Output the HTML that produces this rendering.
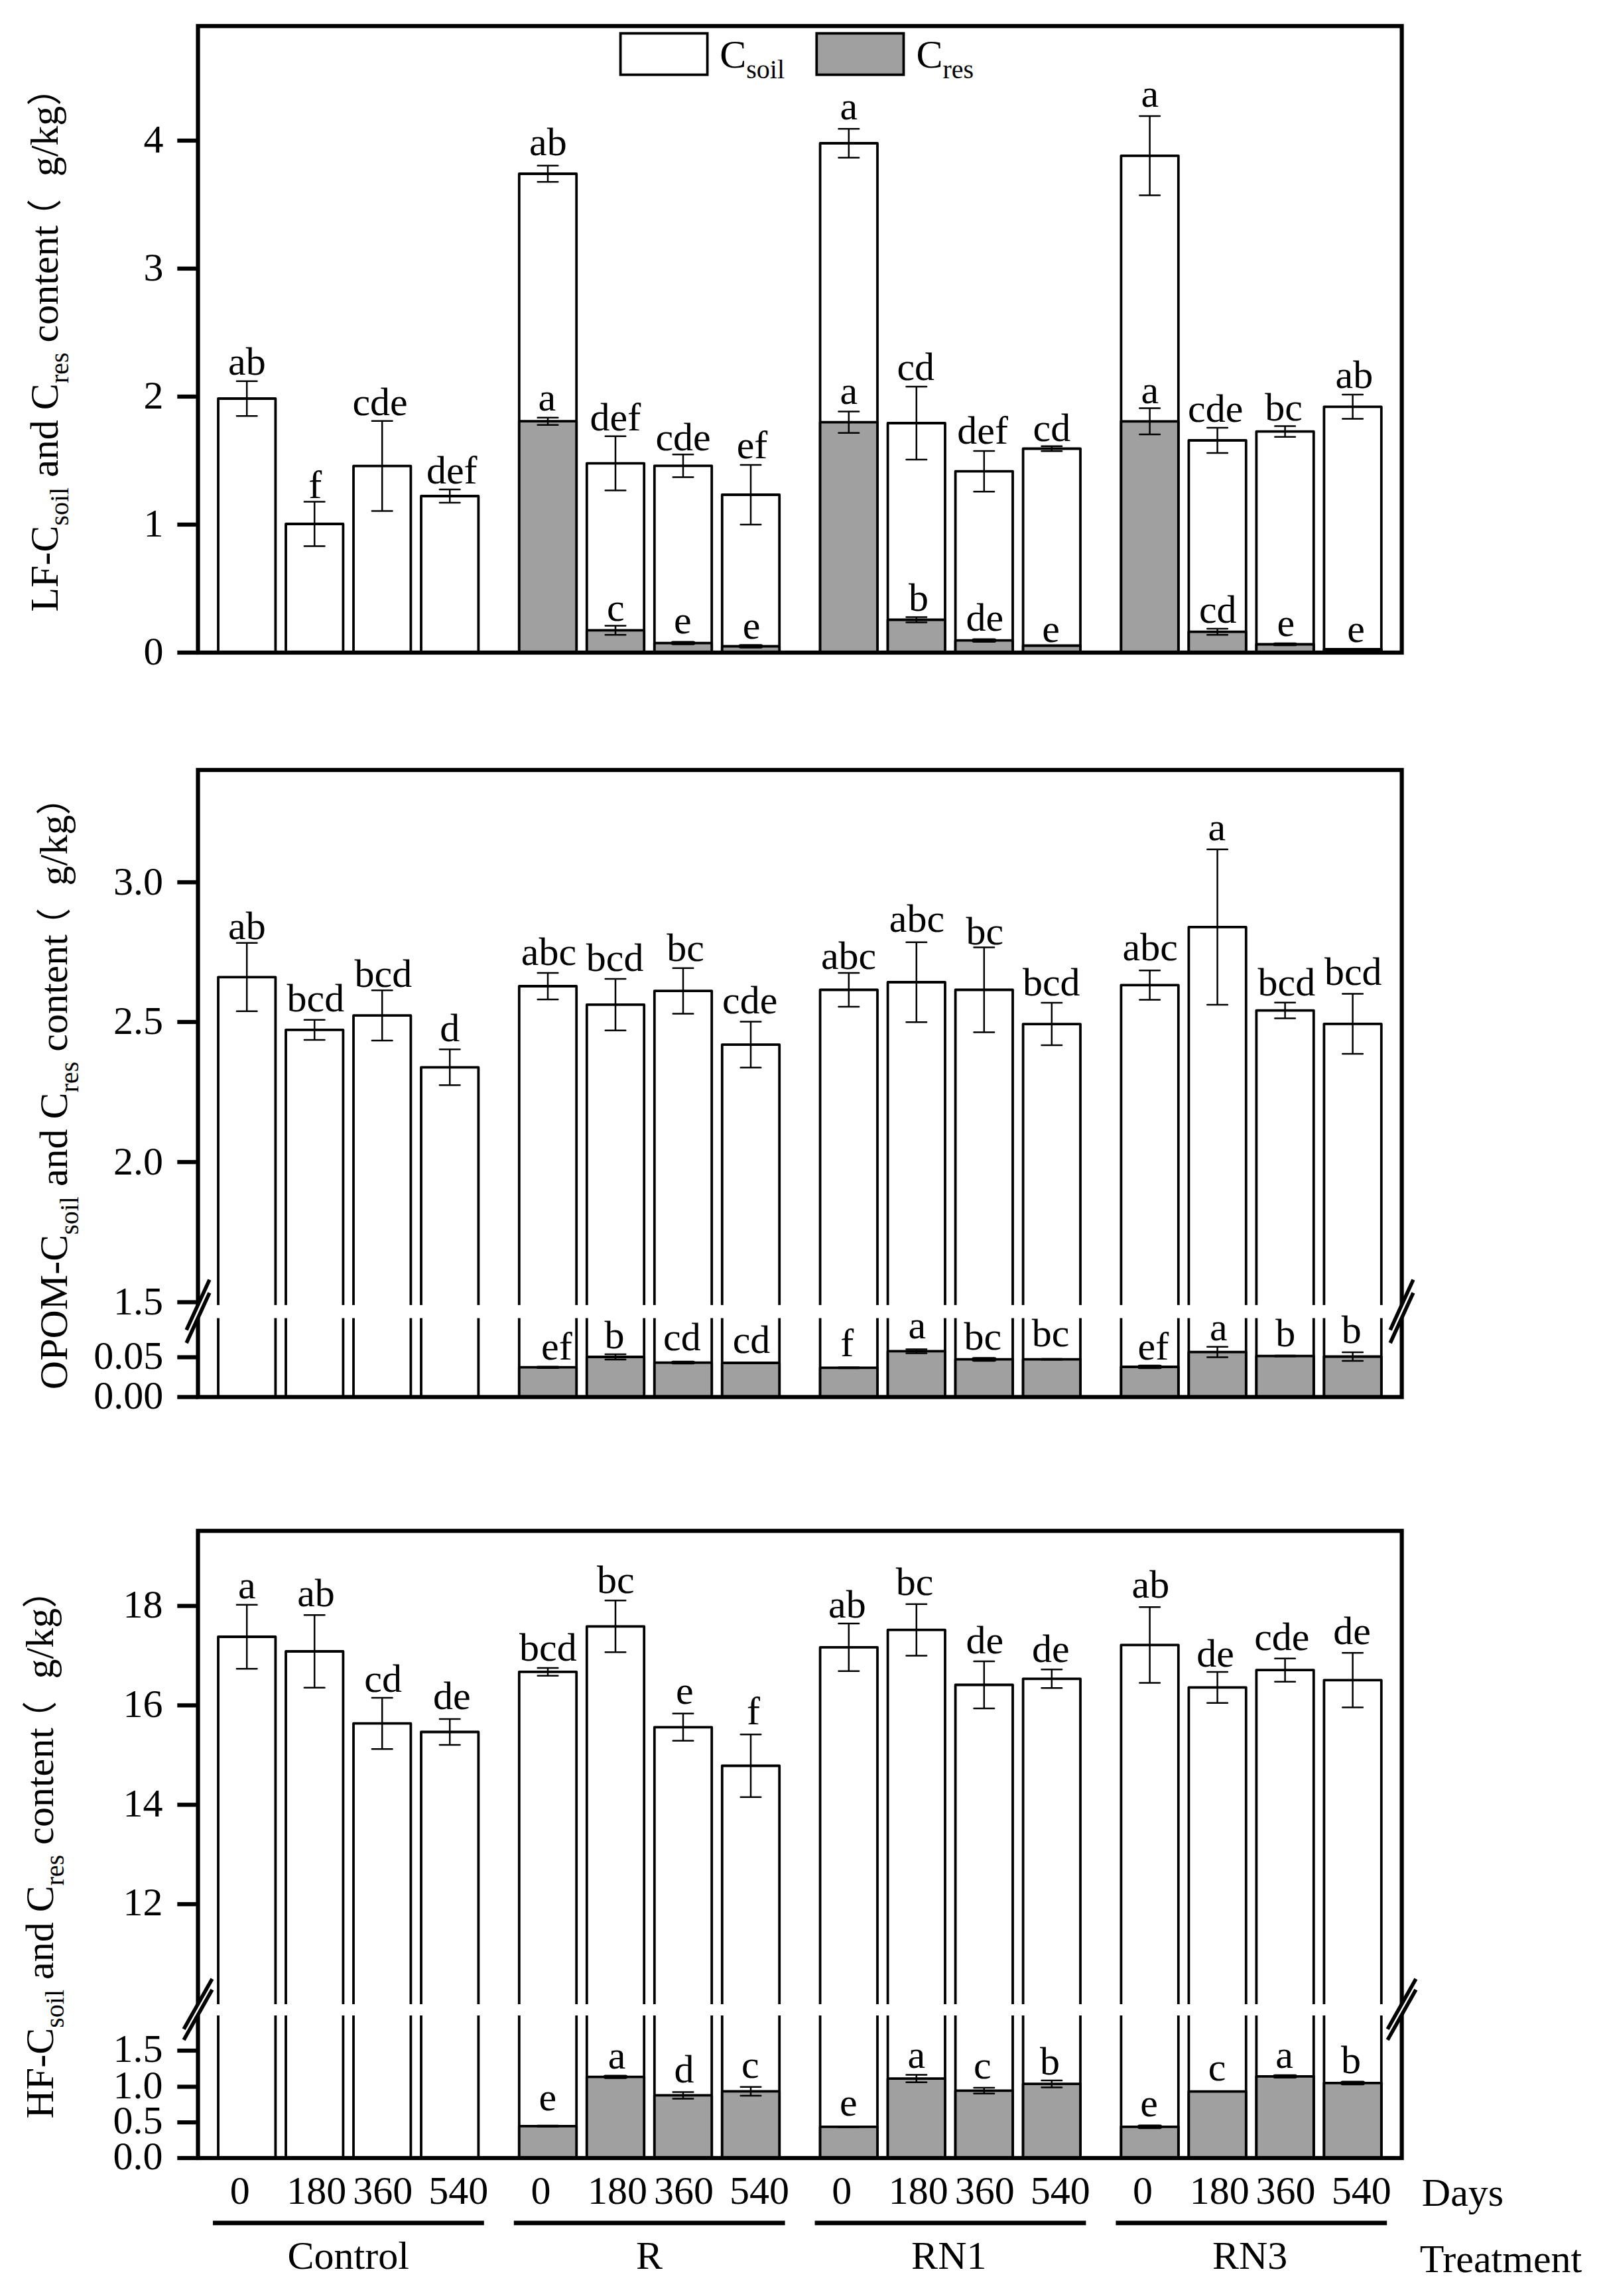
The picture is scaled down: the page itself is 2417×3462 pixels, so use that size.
<!DOCTYPE html>
<html lang="en"><head><meta charset="utf-8"><title>LF, OPOM and HF C content</title>
<style>html,body{margin:0;padding:0;background:#fff}svg{display:block}text{font-family:"Liberation Serif","Noto Serif CJK SC",serif;font-size:60px;fill:#000}text.cjk{font-family:"Noto Sans CJK SC","Noto Serif CJK SC",sans-serif;font-size:53px;font-weight:400}</style></head><body>
<svg width="2417" height="3462" viewBox="0 0 2417 3462">
<rect width="2417" height="3462" fill="#fff"/>
<rect x="329.0" y="601.0" width="86.4" height="383.0" fill="#fff" stroke="#000" stroke-width="3.8" stroke-linejoin="round"/>
<rect x="431.0" y="790.0" width="86.4" height="194.0" fill="#fff" stroke="#000" stroke-width="3.8" stroke-linejoin="round"/>
<rect x="533.0" y="702.7" width="86.4" height="281.3" fill="#fff" stroke="#000" stroke-width="3.8" stroke-linejoin="round"/>
<rect x="635.0" y="748.0" width="86.4" height="236.0" fill="#fff" stroke="#000" stroke-width="3.8" stroke-linejoin="round"/>
<rect x="782.8" y="262.0" width="86.4" height="722.0" fill="#fff" stroke="#000" stroke-width="3.8" stroke-linejoin="round"/>
<rect x="782.8" y="635.2" width="86.4" height="348.8" fill="#a0a0a0" stroke="#000" stroke-width="3.8" stroke-linejoin="round"/>
<rect x="884.8" y="698.6" width="86.4" height="285.4" fill="#fff" stroke="#000" stroke-width="3.8" stroke-linejoin="round"/>
<rect x="884.8" y="950.4" width="86.4" height="33.6" fill="#a0a0a0" stroke="#000" stroke-width="3.8" stroke-linejoin="round"/>
<rect x="986.8" y="702.3" width="86.4" height="281.7" fill="#fff" stroke="#000" stroke-width="3.8" stroke-linejoin="round"/>
<rect x="986.8" y="969.6" width="86.4" height="14.4" fill="#a0a0a0" stroke="#000" stroke-width="3.8" stroke-linejoin="round"/>
<rect x="1088.8" y="746.0" width="86.4" height="238.0" fill="#fff" stroke="#000" stroke-width="3.8" stroke-linejoin="round"/>
<rect x="1088.8" y="974.5" width="86.4" height="9.5" fill="#a0a0a0" stroke="#000" stroke-width="3.8" stroke-linejoin="round"/>
<rect x="1236.6" y="216.0" width="86.4" height="768.0" fill="#fff" stroke="#000" stroke-width="3.8" stroke-linejoin="round"/>
<rect x="1236.6" y="636.6" width="86.4" height="347.4" fill="#a0a0a0" stroke="#000" stroke-width="3.8" stroke-linejoin="round"/>
<rect x="1338.6" y="638.0" width="86.4" height="346.0" fill="#fff" stroke="#000" stroke-width="3.8" stroke-linejoin="round"/>
<rect x="1338.6" y="934.5" width="86.4" height="49.5" fill="#a0a0a0" stroke="#000" stroke-width="3.8" stroke-linejoin="round"/>
<rect x="1440.6" y="710.6" width="86.4" height="273.4" fill="#fff" stroke="#000" stroke-width="3.8" stroke-linejoin="round"/>
<rect x="1440.6" y="965.7" width="86.4" height="18.3" fill="#a0a0a0" stroke="#000" stroke-width="3.8" stroke-linejoin="round"/>
<rect x="1542.6" y="676.5" width="86.4" height="307.5" fill="#fff" stroke="#000" stroke-width="3.8" stroke-linejoin="round"/>
<rect x="1542.6" y="973.5" width="86.4" height="10.5" fill="#a0a0a0" stroke="#000" stroke-width="3.8" stroke-linejoin="round"/>
<rect x="1690.4" y="234.8" width="86.4" height="749.2" fill="#fff" stroke="#000" stroke-width="3.8" stroke-linejoin="round"/>
<rect x="1690.4" y="635.3" width="86.4" height="348.7" fill="#a0a0a0" stroke="#000" stroke-width="3.8" stroke-linejoin="round"/>
<rect x="1792.4" y="664.0" width="86.4" height="320.0" fill="#fff" stroke="#000" stroke-width="3.8" stroke-linejoin="round"/>
<rect x="1792.4" y="952.6" width="86.4" height="31.4" fill="#a0a0a0" stroke="#000" stroke-width="3.8" stroke-linejoin="round"/>
<rect x="1894.4" y="650.6" width="86.4" height="333.4" fill="#fff" stroke="#000" stroke-width="3.8" stroke-linejoin="round"/>
<rect x="1894.4" y="971.5" width="86.4" height="12.5" fill="#a0a0a0" stroke="#000" stroke-width="3.8" stroke-linejoin="round"/>
<rect x="1996.4" y="613.3" width="86.4" height="370.7" fill="#fff" stroke="#000" stroke-width="3.8" stroke-linejoin="round"/>
<rect x="1996.4" y="979.0" width="86.4" height="5.0" fill="#a0a0a0" stroke="#000" stroke-width="3.8" stroke-linejoin="round"/>
<path d="M372.2 574.8V627.2M356.9 574.8h30.6M356.9 627.2h30.6" fill="none" stroke="#000" stroke-width="2.5" stroke-linecap="round"/>
<text x="344.1" y="564.6">ab</text>
<path d="M474.2 756.6V823.4M458.9 756.6h30.6M458.9 823.4h30.6" fill="none" stroke="#000" stroke-width="2.5" stroke-linecap="round"/>
<text x="465.2" y="751.0">f</text>
<path d="M576.2 634.8V770.6M560.9 634.8h30.6M560.9 770.6h30.6" fill="none" stroke="#000" stroke-width="2.5" stroke-linecap="round"/>
<text x="531.4" y="625.7">cde</text>
<path d="M678.2 737.9V758.1M662.9 737.9h30.6M662.9 758.1h30.6" fill="none" stroke="#000" stroke-width="2.5" stroke-linecap="round"/>
<text x="642.9" y="729.0">def</text>
<path d="M826.0 249.8V274.2M810.7 249.8h30.6M810.7 274.2h30.6" fill="none" stroke="#000" stroke-width="2.5" stroke-linecap="round"/>
<text x="798.1" y="233.9">ab</text>
<path d="M826.0 629.7V640.7M810.7 629.7h30.6M810.7 640.7h30.6" fill="none" stroke="#000" stroke-width="2.5" stroke-linecap="round"/>
<text x="811.4" y="619.0">a</text>
<path d="M928.0 657.7V739.5M912.7 657.7h30.6M912.7 739.5h30.6" fill="none" stroke="#000" stroke-width="2.5" stroke-linecap="round"/>
<text x="889.6" y="648.9">def</text>
<path d="M928.0 943.5V957.3M912.7 943.5h30.6M912.7 957.3h30.6" fill="none" stroke="#000" stroke-width="2.5" stroke-linecap="round"/>
<text x="915.0" y="935.8">c</text>
<path d="M1030.0 685.2V719.4M1014.7 685.2h30.6M1014.7 719.4h30.6" fill="none" stroke="#000" stroke-width="2.5" stroke-linecap="round"/>
<text x="988.4" y="679.0">cde</text>
<line x1="1014.7" y1="969.6" x2="1045.3" y2="969.6" stroke="#000" stroke-width="6.3" stroke-linecap="round"/>
<text x="1016.1" y="954.5">e</text>
<path d="M1132.0 701.1V790.9M1116.7 701.1h30.6M1116.7 790.9h30.6" fill="none" stroke="#000" stroke-width="2.5" stroke-linecap="round"/>
<text x="1110.7" y="691.3">ef</text>
<line x1="1116.7" y1="974.5" x2="1147.3" y2="974.5" stroke="#000" stroke-width="6.3" stroke-linecap="round"/>
<text x="1119.7" y="963.0">e</text>
<path d="M1279.8 194.2V237.8M1264.5 194.2h30.6M1264.5 237.8h30.6" fill="none" stroke="#000" stroke-width="2.5" stroke-linecap="round"/>
<text x="1266.4" y="180.3">a</text>
<path d="M1279.8 620.4V652.8M1264.5 620.4h30.6M1264.5 652.8h30.6" fill="none" stroke="#000" stroke-width="2.5" stroke-linecap="round"/>
<text x="1266.4" y="609.2">a</text>
<path d="M1381.8 583.0V693.0M1366.5 583.0h30.6M1366.5 693.0h30.6" fill="none" stroke="#000" stroke-width="2.5" stroke-linecap="round"/>
<text x="1352.4" y="572.8">cd</text>
<path d="M1381.8 930.5V938.5M1366.5 930.5h30.6M1366.5 938.5h30.6" fill="none" stroke="#000" stroke-width="2.5" stroke-linecap="round"/>
<text x="1370.0" y="921.0">b</text>
<path d="M1483.8 679.9V741.3M1468.5 679.9h30.6M1468.5 741.3h30.6" fill="none" stroke="#000" stroke-width="2.5" stroke-linecap="round"/>
<text x="1443.3" y="669.3">def</text>
<line x1="1468.5" y1="965.7" x2="1499.1" y2="965.7" stroke="#000" stroke-width="6.5" stroke-linecap="round"/>
<text x="1456.5" y="950.8">de</text>
<path d="M1585.8 672.7V680.3M1570.5 672.7h30.6M1570.5 680.3h30.6" fill="none" stroke="#000" stroke-width="2.5" stroke-linecap="round"/>
<text x="1557.6" y="665.2">cd</text>
<text x="1571.2" y="967.5">e</text>
<path d="M1733.6 175.1V294.5M1718.3 175.1h30.6M1718.3 294.5h30.6" fill="none" stroke="#000" stroke-width="2.5" stroke-linecap="round"/>
<text x="1720.4" y="161.1">a</text>
<path d="M1733.6 615.5V655.1M1718.3 615.5h30.6M1718.3 655.1h30.6" fill="none" stroke="#000" stroke-width="2.5" stroke-linecap="round"/>
<text x="1720.4" y="607.9">a</text>
<path d="M1835.6 644.9V683.1M1820.3 644.9h30.6M1820.3 683.1h30.6" fill="none" stroke="#000" stroke-width="2.5" stroke-linecap="round"/>
<text x="1791.0" y="636.0">cde</text>
<path d="M1835.6 947.9V957.3M1820.3 947.9h30.6M1820.3 957.3h30.6" fill="none" stroke="#000" stroke-width="2.5" stroke-linecap="round"/>
<text x="1807.9" y="939.3">cd</text>
<path d="M1937.6 642.4V658.8M1922.3 642.4h30.6M1922.3 658.8h30.6" fill="none" stroke="#000" stroke-width="2.5" stroke-linecap="round"/>
<text x="1907.2" y="634.3">bc</text>
<line x1="1922.3" y1="971.5" x2="1952.9" y2="971.5" stroke="#000" stroke-width="5.7" stroke-linecap="round"/>
<text x="1925.6" y="959.4">e</text>
<path d="M2039.6 595.1V631.5M2024.3 595.1h30.6M2024.3 631.5h30.6" fill="none" stroke="#000" stroke-width="2.5" stroke-linecap="round"/>
<text x="2013.6" y="585.0">ab</text>
<text x="2031.2" y="967.5">e</text>
<rect x="298.5" y="39.3" width="1815.1" height="944.7" fill="none" stroke="#000" stroke-width="6.2"/>
<line x1="267.3" y1="984.0" x2="298.5" y2="984.0" stroke="#000" stroke-width="6.2"/>
<text x="216.6" y="1002.2">0</text>
<line x1="267.3" y1="791.0" x2="298.5" y2="791.0" stroke="#000" stroke-width="6.2"/>
<text x="216.6" y="809.2">1</text>
<line x1="267.3" y1="598.0" x2="298.5" y2="598.0" stroke="#000" stroke-width="6.2"/>
<text x="216.6" y="616.2">2</text>
<line x1="267.3" y1="405.0" x2="298.5" y2="405.0" stroke="#000" stroke-width="6.2"/>
<text x="216.6" y="423.2">3</text>
<line x1="267.3" y1="212.0" x2="298.5" y2="212.0" stroke="#000" stroke-width="6.2"/>
<text x="216.6" y="230.2">4</text>
<rect x="935.6" y="50.3" width="131" height="62.4" fill="#fff" stroke="#000" stroke-width="3.8"/>
<rect x="1231.3" y="50.3" width="131.2" height="62.4" fill="#a0a0a0" stroke="#000" stroke-width="3.8"/>
<text x="1085.2" y="102">C<tspan font-size="40" dy="16">soil</tspan></text>
<text x="1381.4" y="102">C<tspan font-size="40" dy="16">res</tspan></text>
<g transform="translate(87.0,922.6) rotate(-90)">
<text x="0" y="0">LF-C<tspan font-size="40" dy="16.4">soil</tspan><tspan dy="-16.4"> and C</tspan><tspan font-size="40" dy="16.4">res</tspan><tspan dy="-16.4"> content</tspan></text>
<text x="656.3" y="0">g/kg</text>
<text class="cjk" x="569.7" y="0">（</text>
<text class="cjk" x="763.0" y="0">）</text>
</g>
<rect x="329.0" y="1473.3" width="86.4" height="633.2" fill="#fff" stroke="#000" stroke-width="3.8" stroke-linejoin="round"/>
<rect x="431.0" y="1552.8" width="86.4" height="553.7" fill="#fff" stroke="#000" stroke-width="3.8" stroke-linejoin="round"/>
<rect x="533.0" y="1531.2" width="86.4" height="575.3" fill="#fff" stroke="#000" stroke-width="3.8" stroke-linejoin="round"/>
<rect x="635.0" y="1609.3" width="86.4" height="497.2" fill="#fff" stroke="#000" stroke-width="3.8" stroke-linejoin="round"/>
<rect x="782.8" y="1487.0" width="86.4" height="619.5" fill="#fff" stroke="#000" stroke-width="3.8" stroke-linejoin="round"/>
<rect x="884.8" y="1514.9" width="86.4" height="591.6" fill="#fff" stroke="#000" stroke-width="3.8" stroke-linejoin="round"/>
<rect x="986.8" y="1494.2" width="86.4" height="612.3" fill="#fff" stroke="#000" stroke-width="3.8" stroke-linejoin="round"/>
<rect x="1088.8" y="1575.1" width="86.4" height="531.4" fill="#fff" stroke="#000" stroke-width="3.8" stroke-linejoin="round"/>
<rect x="1236.6" y="1492.5" width="86.4" height="614.0" fill="#fff" stroke="#000" stroke-width="3.8" stroke-linejoin="round"/>
<rect x="1338.6" y="1481.0" width="86.4" height="625.5" fill="#fff" stroke="#000" stroke-width="3.8" stroke-linejoin="round"/>
<rect x="1440.6" y="1492.5" width="86.4" height="614.0" fill="#fff" stroke="#000" stroke-width="3.8" stroke-linejoin="round"/>
<rect x="1542.6" y="1544.1" width="86.4" height="562.4" fill="#fff" stroke="#000" stroke-width="3.8" stroke-linejoin="round"/>
<rect x="1690.4" y="1485.3" width="86.4" height="621.2" fill="#fff" stroke="#000" stroke-width="3.8" stroke-linejoin="round"/>
<rect x="1792.4" y="1397.8" width="86.4" height="708.7" fill="#fff" stroke="#000" stroke-width="3.8" stroke-linejoin="round"/>
<rect x="1894.4" y="1523.6" width="86.4" height="582.9" fill="#fff" stroke="#000" stroke-width="3.8" stroke-linejoin="round"/>
<rect x="1996.4" y="1543.8" width="86.4" height="562.7" fill="#fff" stroke="#000" stroke-width="3.8" stroke-linejoin="round"/>
<rect x="782.8" y="2061.7" width="86.4" height="44.8" fill="#a0a0a0" stroke="#000" stroke-width="3.8" stroke-linejoin="round"/>
<rect x="884.8" y="2046.0" width="86.4" height="60.5" fill="#a0a0a0" stroke="#000" stroke-width="3.8" stroke-linejoin="round"/>
<rect x="986.8" y="2054.6" width="86.4" height="51.9" fill="#a0a0a0" stroke="#000" stroke-width="3.8" stroke-linejoin="round"/>
<rect x="1088.8" y="2055.0" width="86.4" height="51.5" fill="#a0a0a0" stroke="#000" stroke-width="3.8" stroke-linejoin="round"/>
<rect x="1236.6" y="2062.3" width="86.4" height="44.2" fill="#a0a0a0" stroke="#000" stroke-width="3.8" stroke-linejoin="round"/>
<rect x="1338.6" y="2037.4" width="86.4" height="69.1" fill="#a0a0a0" stroke="#000" stroke-width="3.8" stroke-linejoin="round"/>
<rect x="1440.6" y="2049.7" width="86.4" height="56.8" fill="#a0a0a0" stroke="#000" stroke-width="3.8" stroke-linejoin="round"/>
<rect x="1542.6" y="2049.7" width="86.4" height="56.8" fill="#a0a0a0" stroke="#000" stroke-width="3.8" stroke-linejoin="round"/>
<rect x="1690.4" y="2061.0" width="86.4" height="45.5" fill="#a0a0a0" stroke="#000" stroke-width="3.8" stroke-linejoin="round"/>
<rect x="1792.4" y="2038.6" width="86.4" height="67.9" fill="#a0a0a0" stroke="#000" stroke-width="3.8" stroke-linejoin="round"/>
<rect x="1894.4" y="2044.7" width="86.4" height="61.8" fill="#a0a0a0" stroke="#000" stroke-width="3.8" stroke-linejoin="round"/>
<rect x="1996.4" y="2045.5" width="86.4" height="61.0" fill="#a0a0a0" stroke="#000" stroke-width="3.8" stroke-linejoin="round"/>
<rect x="301.7" y="1967.8" width="1808.7" height="19.7" fill="#fff"/>
<path d="M372.2 1421.8V1524.8M356.9 1421.8h30.6M356.9 1524.8h30.6" fill="none" stroke="#000" stroke-width="2.5" stroke-linecap="round"/>
<text x="344.1" y="1415.5">ab</text>
<path d="M474.2 1537.7V1567.9M458.9 1537.7h30.6M458.9 1567.9h30.6" fill="none" stroke="#000" stroke-width="2.5" stroke-linecap="round"/>
<text x="432.5" y="1525.1">bcd</text>
<path d="M576.2 1493.3V1569.1M560.9 1493.3h30.6M560.9 1569.1h30.6" fill="none" stroke="#000" stroke-width="2.5" stroke-linecap="round"/>
<text x="534.6" y="1488.4">bcd</text>
<path d="M678.2 1582.3V1636.3M662.9 1582.3h30.6M662.9 1636.3h30.6" fill="none" stroke="#000" stroke-width="2.5" stroke-linecap="round"/>
<text x="663.3" y="1569.6">d</text>
<path d="M826.0 1467.0V1507.0M810.7 1467.0h30.6M810.7 1507.0h30.6" fill="none" stroke="#000" stroke-width="2.5" stroke-linecap="round"/>
<text x="785.8" y="1455.4">abc</text>
<path d="M928.0 1476.0V1553.8M912.7 1476.0h30.6M912.7 1553.8h30.6" fill="none" stroke="#000" stroke-width="2.5" stroke-linecap="round"/>
<text x="883.8" y="1464.3">bcd</text>
<path d="M1030.0 1459.8V1528.6M1014.7 1459.8h30.6M1014.7 1528.6h30.6" fill="none" stroke="#000" stroke-width="2.5" stroke-linecap="round"/>
<text x="1005.3" y="1448.5">bc</text>
<path d="M1132.0 1540.4V1609.8M1116.7 1540.4h30.6M1116.7 1609.8h30.6" fill="none" stroke="#000" stroke-width="2.5" stroke-linecap="round"/>
<text x="1089.0" y="1528.0">cde</text>
<path d="M1279.8 1467.1V1517.9M1264.5 1467.1h30.6M1264.5 1517.9h30.6" fill="none" stroke="#000" stroke-width="2.5" stroke-linecap="round"/>
<text x="1237.9" y="1460.6">abc</text>
<path d="M1381.8 1420.8V1541.2M1366.5 1420.8h30.6M1366.5 1541.2h30.6" fill="none" stroke="#000" stroke-width="2.5" stroke-linecap="round"/>
<text x="1340.8" y="1405.2">abc</text>
<path d="M1483.8 1428.5V1556.5M1468.5 1428.5h30.6M1468.5 1556.5h30.6" fill="none" stroke="#000" stroke-width="2.5" stroke-linecap="round"/>
<text x="1456.5" y="1424.1">bc</text>
<path d="M1585.8 1512.1V1576.1M1570.5 1512.1h30.6M1570.5 1576.1h30.6" fill="none" stroke="#000" stroke-width="2.5" stroke-linecap="round"/>
<text x="1541.9" y="1500.7">bcd</text>
<path d="M1733.6 1463.2V1507.4M1718.3 1463.2h30.6M1718.3 1507.4h30.6" fill="none" stroke="#000" stroke-width="2.5" stroke-linecap="round"/>
<text x="1692.5" y="1448.2">abc</text>
<path d="M1835.6 1280.7V1514.9M1820.3 1280.7h30.6M1820.3 1514.9h30.6" fill="none" stroke="#000" stroke-width="2.5" stroke-linecap="round"/>
<text x="1821.6" y="1267.4">a</text>
<path d="M1937.6 1511.8V1535.4M1922.3 1511.8h30.6M1922.3 1535.4h30.6" fill="none" stroke="#000" stroke-width="2.5" stroke-linecap="round"/>
<text x="1896.5" y="1501.3">bcd</text>
<path d="M2039.6 1498.6V1589.0M2024.3 1498.6h30.6M2024.3 1589.0h30.6" fill="none" stroke="#000" stroke-width="2.5" stroke-linecap="round"/>
<text x="1996.9" y="1484.7">bcd</text>
<line x1="810.7" y1="2061.7" x2="841.3" y2="2061.7" stroke="#000" stroke-width="4.5" stroke-linecap="round"/>
<text x="816.0" y="2049.6">ef</text>
<path d="M928.0 2042.0V2050.0M912.7 2042.0h30.6M912.7 2050.0h30.6" fill="none" stroke="#000" stroke-width="2.5" stroke-linecap="round"/>
<text x="911.4" y="2033.3">b</text>
<line x1="1014.7" y1="2054.6" x2="1045.3" y2="2054.6" stroke="#000" stroke-width="5.5" stroke-linecap="round"/>
<text x="1000.0" y="2036.1">cd</text>
<line x1="1116.7" y1="2055.0" x2="1147.3" y2="2055.0" stroke="#000" stroke-width="3.7" stroke-linecap="round"/>
<text x="1104.7" y="2040.4">cd</text>
<line x1="1264.5" y1="2062.3" x2="1295.1" y2="2062.3" stroke="#000" stroke-width="3.7" stroke-linecap="round"/>
<text x="1267.3" y="2044.7">f</text>
<path d="M1381.8 2034.4V2040.4M1366.5 2034.4h30.6M1366.5 2040.4h30.6" fill="none" stroke="#000" stroke-width="2.5" stroke-linecap="round"/>
<text x="1369.6" y="2017.5">a</text>
<line x1="1468.5" y1="2049.7" x2="1499.1" y2="2049.7" stroke="#000" stroke-width="6.9" stroke-linecap="round"/>
<text x="1453.6" y="2034.7">bc</text>
<line x1="1570.5" y1="2049.7" x2="1601.1" y2="2049.7" stroke="#000" stroke-width="3.7" stroke-linecap="round"/>
<text x="1555.7" y="2029.5">bc</text>
<line x1="1718.3" y1="2061.0" x2="1748.9" y2="2061.0" stroke="#000" stroke-width="6.5" stroke-linecap="round"/>
<text x="1715.6" y="2050.2">ef</text>
<path d="M1835.6 2030.8V2046.4M1820.3 2030.8h30.6M1820.3 2046.4h30.6" fill="none" stroke="#000" stroke-width="2.5" stroke-linecap="round"/>
<text x="1824.0" y="2021.2">a</text>
<line x1="1922.3" y1="2044.7" x2="1952.9" y2="2044.7" stroke="#000" stroke-width="3.7" stroke-linecap="round"/>
<text x="1923.2" y="2030.3">b</text>
<path d="M2039.6 2039.1V2051.9M2024.3 2039.1h30.6M2024.3 2051.9h30.6" fill="none" stroke="#000" stroke-width="2.5" stroke-linecap="round"/>
<text x="2022.7" y="2024.8">b</text>
<rect x="298.5" y="1161.0" width="1815.1" height="945.5" fill="none" stroke="#000" stroke-width="6.2"/>
<line x1="267.3" y1="1330.3" x2="298.5" y2="1330.3" stroke="#000" stroke-width="6.2"/>
<text x="171.0" y="1348.7">3.0</text>
<line x1="267.3" y1="1541.0" x2="298.5" y2="1541.0" stroke="#000" stroke-width="6.2"/>
<text x="171.0" y="1559.4">2.5</text>
<line x1="267.3" y1="1752.2" x2="298.5" y2="1752.2" stroke="#000" stroke-width="6.2"/>
<text x="171.0" y="1770.6">2.0</text>
<line x1="267.3" y1="1963.5" x2="298.5" y2="1963.5" stroke="#000" stroke-width="6.2"/>
<text x="171.0" y="1981.9">1.5</text>
<line x1="267.3" y1="2046.5" x2="298.5" y2="2046.5" stroke="#000" stroke-width="6.2"/>
<text x="141.2" y="2064.3">0.05</text>
<line x1="267.3" y1="2106.5" x2="298.5" y2="2106.5" stroke="#000" stroke-width="6.2"/>
<text x="141.2" y="2124.3">0.00</text>
<line x1="315.9" y1="1939.5" x2="281.1" y2="2015.2" stroke="#fff" stroke-width="9"/>
<line x1="315.9" y1="1929.7" x2="281.1" y2="2005.3" stroke="#000" stroke-width="5.6"/>
<line x1="315.9" y1="1949.4" x2="281.1" y2="2025.0" stroke="#000" stroke-width="5.6"/>
<line x1="2130.9" y1="1939.5" x2="2096.2" y2="2015.2" stroke="#fff" stroke-width="9"/>
<line x1="2130.9" y1="1929.7" x2="2096.2" y2="2005.3" stroke="#000" stroke-width="5.6"/>
<line x1="2130.9" y1="1949.4" x2="2096.2" y2="2025.0" stroke="#000" stroke-width="5.6"/>
<g transform="translate(101.1,2095.2) rotate(-90)">
<text x="0" y="0">OPOM-C<tspan font-size="40" dy="16.4">soil</tspan><tspan dy="-16.4"> and C</tspan><tspan font-size="40" dy="16.4">res</tspan><tspan dy="-16.4"> content</tspan></text>
<text x="759.7" y="0">g/kg</text>
<text class="cjk" x="673.1" y="0">（</text>
<text class="cjk" x="866.3" y="0">）</text>
</g>
<rect x="329.0" y="2468.0" width="86.4" height="786.0" fill="#fff" stroke="#000" stroke-width="3.8" stroke-linejoin="round"/>
<rect x="431.0" y="2490.0" width="86.4" height="764.0" fill="#fff" stroke="#000" stroke-width="3.8" stroke-linejoin="round"/>
<rect x="533.0" y="2598.6" width="86.4" height="655.4" fill="#fff" stroke="#000" stroke-width="3.8" stroke-linejoin="round"/>
<rect x="635.0" y="2611.5" width="86.4" height="642.5" fill="#fff" stroke="#000" stroke-width="3.8" stroke-linejoin="round"/>
<rect x="782.8" y="2520.8" width="86.4" height="733.2" fill="#fff" stroke="#000" stroke-width="3.8" stroke-linejoin="round"/>
<rect x="884.8" y="2452.3" width="86.4" height="801.7" fill="#fff" stroke="#000" stroke-width="3.8" stroke-linejoin="round"/>
<rect x="986.8" y="2604.3" width="86.4" height="649.7" fill="#fff" stroke="#000" stroke-width="3.8" stroke-linejoin="round"/>
<rect x="1088.8" y="2662.5" width="86.4" height="591.5" fill="#fff" stroke="#000" stroke-width="3.8" stroke-linejoin="round"/>
<rect x="1236.6" y="2483.9" width="86.4" height="770.1" fill="#fff" stroke="#000" stroke-width="3.8" stroke-linejoin="round"/>
<rect x="1338.6" y="2457.7" width="86.4" height="796.3" fill="#fff" stroke="#000" stroke-width="3.8" stroke-linejoin="round"/>
<rect x="1440.6" y="2540.5" width="86.4" height="713.5" fill="#fff" stroke="#000" stroke-width="3.8" stroke-linejoin="round"/>
<rect x="1542.6" y="2531.3" width="86.4" height="722.7" fill="#fff" stroke="#000" stroke-width="3.8" stroke-linejoin="round"/>
<rect x="1690.4" y="2480.3" width="86.4" height="773.7" fill="#fff" stroke="#000" stroke-width="3.8" stroke-linejoin="round"/>
<rect x="1792.4" y="2544.4" width="86.4" height="709.6" fill="#fff" stroke="#000" stroke-width="3.8" stroke-linejoin="round"/>
<rect x="1894.4" y="2518.2" width="86.4" height="735.8" fill="#fff" stroke="#000" stroke-width="3.8" stroke-linejoin="round"/>
<rect x="1996.4" y="2533.4" width="86.4" height="720.6" fill="#fff" stroke="#000" stroke-width="3.8" stroke-linejoin="round"/>
<rect x="782.8" y="3205.9" width="86.4" height="48.1" fill="#a0a0a0" stroke="#000" stroke-width="3.8" stroke-linejoin="round"/>
<rect x="884.8" y="3131.6" width="86.4" height="122.4" fill="#a0a0a0" stroke="#000" stroke-width="3.8" stroke-linejoin="round"/>
<rect x="986.8" y="3159.4" width="86.4" height="94.6" fill="#a0a0a0" stroke="#000" stroke-width="3.8" stroke-linejoin="round"/>
<rect x="1088.8" y="3153.4" width="86.4" height="100.6" fill="#a0a0a0" stroke="#000" stroke-width="3.8" stroke-linejoin="round"/>
<rect x="1236.6" y="3206.8" width="86.4" height="47.2" fill="#a0a0a0" stroke="#000" stroke-width="3.8" stroke-linejoin="round"/>
<rect x="1338.6" y="3134.2" width="86.4" height="119.8" fill="#a0a0a0" stroke="#000" stroke-width="3.8" stroke-linejoin="round"/>
<rect x="1440.6" y="3152.4" width="86.4" height="101.6" fill="#a0a0a0" stroke="#000" stroke-width="3.8" stroke-linejoin="round"/>
<rect x="1542.6" y="3142.2" width="86.4" height="111.8" fill="#a0a0a0" stroke="#000" stroke-width="3.8" stroke-linejoin="round"/>
<rect x="1690.4" y="3206.8" width="86.4" height="47.2" fill="#a0a0a0" stroke="#000" stroke-width="3.8" stroke-linejoin="round"/>
<rect x="1792.4" y="3153.7" width="86.4" height="100.3" fill="#a0a0a0" stroke="#000" stroke-width="3.8" stroke-linejoin="round"/>
<rect x="1894.4" y="3130.8" width="86.4" height="123.2" fill="#a0a0a0" stroke="#000" stroke-width="3.8" stroke-linejoin="round"/>
<rect x="1996.4" y="3140.8" width="86.4" height="113.2" fill="#a0a0a0" stroke="#000" stroke-width="3.8" stroke-linejoin="round"/>
<rect x="301.7" y="3022.0" width="1808.7" height="17.0" fill="#fff"/>
<path d="M372.2 2419.7V2516.3M356.9 2419.7h30.6M356.9 2516.3h30.6" fill="none" stroke="#000" stroke-width="2.5" stroke-linecap="round"/>
<text x="358.9" y="2409.8">a</text>
<path d="M474.2 2435.2V2544.8M458.9 2435.2h30.6M458.9 2544.8h30.6" fill="none" stroke="#000" stroke-width="2.5" stroke-linecap="round"/>
<text x="448.2" y="2422.4">ab</text>
<path d="M576.2 2559.9V2637.3M560.9 2559.9h30.6M560.9 2637.3h30.6" fill="none" stroke="#000" stroke-width="2.5" stroke-linecap="round"/>
<text x="549.3" y="2551.0">cd</text>
<path d="M678.2 2592.0V2631.0M662.9 2592.0h30.6M662.9 2631.0h30.6" fill="none" stroke="#000" stroke-width="2.5" stroke-linecap="round"/>
<text x="652.9" y="2577.4">de</text>
<path d="M826.0 2514.9V2526.7M810.7 2514.9h30.6M810.7 2526.7h30.6" fill="none" stroke="#000" stroke-width="2.5" stroke-linecap="round"/>
<text x="783.1" y="2503.6">bcd</text>
<path d="M928.0 2413.3V2491.3M912.7 2413.3h30.6M912.7 2491.3h30.6" fill="none" stroke="#000" stroke-width="2.5" stroke-linecap="round"/>
<text x="900.0" y="2401.7">bc</text>
<path d="M1030.0 2583.8V2624.8M1014.7 2583.8h30.6M1014.7 2624.8h30.6" fill="none" stroke="#000" stroke-width="2.5" stroke-linecap="round"/>
<text x="1019.0" y="2569.0">e</text>
<path d="M1132.0 2615.2V2709.8M1116.7 2615.2h30.6M1116.7 2709.8h30.6" fill="none" stroke="#000" stroke-width="2.5" stroke-linecap="round"/>
<text x="1126.0" y="2599.7">f</text>
<path d="M1279.8 2448.0V2519.8M1264.5 2448.0h30.6M1264.5 2519.8h30.6" fill="none" stroke="#000" stroke-width="2.5" stroke-linecap="round"/>
<text x="1249.0" y="2439.0">ab</text>
<path d="M1381.8 2418.8V2496.6M1366.5 2418.8h30.6M1366.5 2496.6h30.6" fill="none" stroke="#000" stroke-width="2.5" stroke-linecap="round"/>
<text x="1350.7" y="2405.2">bc</text>
<path d="M1483.8 2505.1V2575.9M1468.5 2505.1h30.6M1468.5 2575.9h30.6" fill="none" stroke="#000" stroke-width="2.5" stroke-linecap="round"/>
<text x="1456.5" y="2492.7">de</text>
<path d="M1585.8 2517.3V2545.3M1570.5 2517.3h30.6M1570.5 2545.3h30.6" fill="none" stroke="#000" stroke-width="2.5" stroke-linecap="round"/>
<text x="1556.0" y="2505.6">de</text>
<path d="M1733.6 2423.2V2537.4M1718.3 2423.2h30.6M1718.3 2537.4h30.6" fill="none" stroke="#000" stroke-width="2.5" stroke-linecap="round"/>
<text x="1706.6" y="2408.9">ab</text>
<path d="M1835.6 2521.0V2567.8M1820.3 2521.0h30.6M1820.3 2567.8h30.6" fill="none" stroke="#000" stroke-width="2.5" stroke-linecap="round"/>
<text x="1804.2" y="2513.1">de</text>
<path d="M1937.6 2500.7V2535.7M1922.3 2500.7h30.6M1922.3 2535.7h30.6" fill="none" stroke="#000" stroke-width="2.5" stroke-linecap="round"/>
<text x="1891.2" y="2488.4">cde</text>
<path d="M2039.6 2492.2V2574.6M2024.3 2492.2h30.6M2024.3 2574.6h30.6" fill="none" stroke="#000" stroke-width="2.5" stroke-linecap="round"/>
<text x="2010.2" y="2479.2">de</text>
<line x1="810.7" y1="3205.9" x2="841.3" y2="3205.9" stroke="#000" stroke-width="4.1" stroke-linecap="round"/>
<text x="812.4" y="3182.0">e</text>
<line x1="912.7" y1="3131.6" x2="943.3" y2="3131.6" stroke="#000" stroke-width="6.1" stroke-linecap="round"/>
<text x="916.7" y="3118.9">a</text>
<path d="M1030.0 3154.4V3164.4M1014.7 3154.4h30.6M1014.7 3164.4h30.6" fill="none" stroke="#000" stroke-width="2.5" stroke-linecap="round"/>
<text x="1016.6" y="3140.4">d</text>
<path d="M1132.0 3146.8V3160.0M1116.7 3146.8h30.6M1116.7 3160.0h30.6" fill="none" stroke="#000" stroke-width="2.5" stroke-linecap="round"/>
<text x="1117.9" y="3133.3">c</text>
<line x1="1264.5" y1="3206.8" x2="1295.1" y2="3206.8" stroke="#000" stroke-width="3.7" stroke-linecap="round"/>
<text x="1266.0" y="3190.1">e</text>
<path d="M1381.8 3128.6V3139.8M1366.5 3128.6h30.6M1366.5 3139.8h30.6" fill="none" stroke="#000" stroke-width="2.5" stroke-linecap="round"/>
<text x="1368.4" y="3117.5">a</text>
<path d="M1483.8 3148.1V3156.7M1468.5 3148.1h30.6M1468.5 3156.7h30.6" fill="none" stroke="#000" stroke-width="2.5" stroke-linecap="round"/>
<text x="1467.9" y="3134.1">c</text>
<path d="M1585.8 3136.9V3147.5M1570.5 3136.9h30.6M1570.5 3147.5h30.6" fill="none" stroke="#000" stroke-width="2.5" stroke-linecap="round"/>
<text x="1568.0" y="3127.5">b</text>
<line x1="1718.3" y1="3206.8" x2="1748.9" y2="3206.8" stroke="#000" stroke-width="6.7" stroke-linecap="round"/>
<text x="1719.2" y="3190.7">e</text>
<text x="1821.7" y="3137.0">c</text>
<line x1="1922.3" y1="3130.8" x2="1952.9" y2="3130.8" stroke="#000" stroke-width="6.3" stroke-linecap="round"/>
<text x="1923.2" y="3117.5">a</text>
<line x1="2024.3" y1="3140.8" x2="2054.9" y2="3140.8" stroke="#000" stroke-width="6.7" stroke-linecap="round"/>
<text x="2022.0" y="3126.1">b</text>
<rect x="298.5" y="2308.3" width="1815.1" height="945.7" fill="none" stroke="#000" stroke-width="6.2"/>
<line x1="267.3" y1="2421.5" x2="298.5" y2="2421.5" stroke="#000" stroke-width="6.2"/>
<text x="185.4" y="2438.7">18</text>
<line x1="267.3" y1="2571.4" x2="298.5" y2="2571.4" stroke="#000" stroke-width="6.2"/>
<text x="185.4" y="2588.6">16</text>
<line x1="267.3" y1="2721.3" x2="298.5" y2="2721.3" stroke="#000" stroke-width="6.2"/>
<text x="185.4" y="2738.5">14</text>
<line x1="267.3" y1="2871.2" x2="298.5" y2="2871.2" stroke="#000" stroke-width="6.2"/>
<text x="185.4" y="2888.4">12</text>
<line x1="267.3" y1="3092.0" x2="298.5" y2="3092.0" stroke="#000" stroke-width="6.2"/>
<text x="170.4" y="3109.2">1.5</text>
<line x1="267.3" y1="3146.5" x2="298.5" y2="3146.5" stroke="#000" stroke-width="6.2"/>
<text x="170.4" y="3163.7">1.0</text>
<line x1="267.3" y1="3200.2" x2="298.5" y2="3200.2" stroke="#000" stroke-width="6.2"/>
<text x="170.4" y="3217.4">0.5</text>
<line x1="267.3" y1="3254.0" x2="298.5" y2="3254.0" stroke="#000" stroke-width="6.2"/>
<text x="170.4" y="3271.2">0.0</text>
<line x1="319.9" y1="2991.9" x2="277.1" y2="3067.8" stroke="#fff" stroke-width="9"/>
<line x1="319.9" y1="2983.8" x2="277.1" y2="3059.6" stroke="#000" stroke-width="5.6"/>
<line x1="319.9" y1="3000.1" x2="277.1" y2="3075.9" stroke="#000" stroke-width="5.6"/>
<line x1="2134.9" y1="2991.9" x2="2092.2" y2="3067.8" stroke="#fff" stroke-width="9"/>
<line x1="2134.9" y1="2983.8" x2="2092.2" y2="3059.6" stroke="#000" stroke-width="5.6"/>
<line x1="2134.9" y1="3000.1" x2="2092.2" y2="3075.9" stroke="#000" stroke-width="5.6"/>
<g transform="translate(80.0,3194.5) rotate(-90)">
<text x="0" y="0">HF-C<tspan font-size="40" dy="16.4">soil</tspan><tspan dy="-16.4"> and C</tspan><tspan font-size="40" dy="16.4">res</tspan><tspan dy="-16.4"> content</tspan></text>
<text x="663.0" y="0">g/kg</text>
<text class="cjk" x="576.4" y="0">（</text>
<text class="cjk" x="769.7" y="0">）</text>
</g>
<text x="346.7" y="3323.2">0</text>
<text x="432.2" y="3323.2">180</text>
<text x="532.2" y="3323.2">360</text>
<text x="646.2" y="3323.2">540</text>
<line x1="321.0" y1="3351.8" x2="729.8" y2="3351.8" stroke="#000" stroke-width="6.8"/>
<text x="525.2" y="3420.6" text-anchor="middle">Control</text>
<text x="800.5" y="3323.2">0</text>
<text x="886.0" y="3323.2">180</text>
<text x="986.0" y="3323.2">360</text>
<text x="1100.0" y="3323.2">540</text>
<line x1="774.8" y1="3351.8" x2="1183.6" y2="3351.8" stroke="#000" stroke-width="6.8"/>
<text x="979.0" y="3420.6" text-anchor="middle">R</text>
<text x="1254.3" y="3323.2">0</text>
<text x="1339.8" y="3323.2">180</text>
<text x="1439.8" y="3323.2">360</text>
<text x="1553.8" y="3323.2">540</text>
<line x1="1228.6" y1="3351.8" x2="1637.4" y2="3351.8" stroke="#000" stroke-width="6.8"/>
<text x="1430.8" y="3420.6" text-anchor="middle">RN1</text>
<text x="1708.1" y="3323.2">0</text>
<text x="1793.7" y="3323.2">180</text>
<text x="1893.6" y="3323.2">360</text>
<text x="2007.7" y="3323.2">540</text>
<line x1="1682.4" y1="3351.8" x2="2091.2" y2="3351.8" stroke="#000" stroke-width="6.8"/>
<text x="1884.6" y="3420.6" text-anchor="middle">RN3</text>
<text x="2143.8" y="3326">Days</text>
<text x="2140.8" y="3426.1">Treatment</text>
</svg></body></html>
